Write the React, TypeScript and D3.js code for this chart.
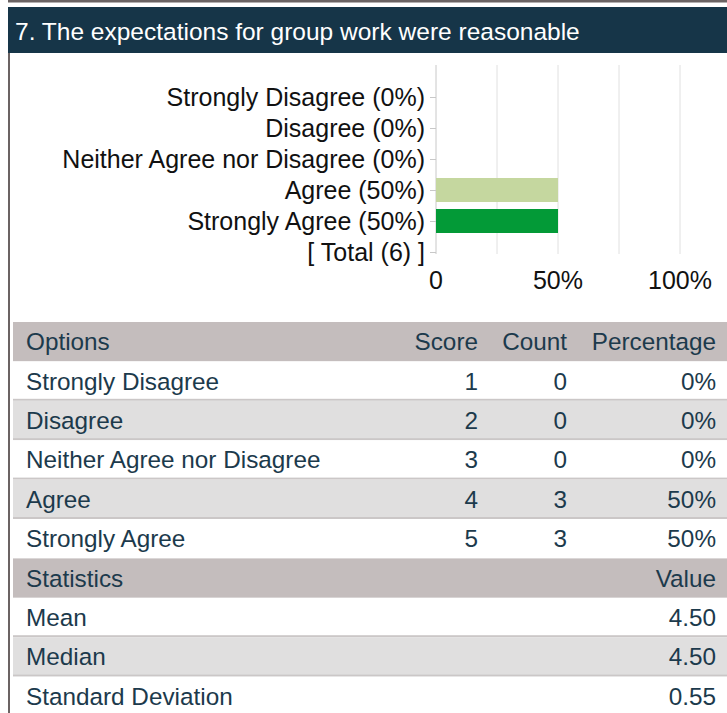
import { useEffect, useRef } from "react"
import * as d3 from "d3"

const title = "7. The expectations for group work were reasonable"
const categories = ["Strongly Disagree", "Disagree", "Neither Agree nor Disagree", "Agree", "Strongly Agree"]
const scores = [1, 2, 3, 4, 5]
const counts = [0, 0, 0, 3, 3]
const percentages = [0, 0, 0, 50, 50]
const total = 6
const barColors = ["#d7301f", "#fc8d59", "#fee08b", "#c5d79f", "#039a37"]
const xTicks = [0, 50, 100]
const gridTicks = [0, 25, 50, 75, 100]
const statNames = ["Mean", "Median", "Standard Deviation"]
const statValues = ["4.50", "4.50", "0.55"]

const W = 727
const H = 713
const FONT = "'Liberation Sans', Arial, sans-serif"
const TEXT = "#1c3a4c"

const App = () => {
  const svgRef = useRef<SVGSVGElement>(null)

  useEffect(() => {
    const svg = d3.select(svgRef.current)
    svg.selectAll("*").remove()
    svg.attr("font-family", FONT)

    // frame: top rule, left rule, title bar
    svg.append("rect").attr("x", 8).attr("y", 0).attr("width", W - 8).attr("height", 2.5).attr("fill", "#6b6363")
    svg.append("rect").attr("x", 8).attr("y", 53).attr("width", 2).attr("height", H - 53).attr("fill", "#6b6363")
    svg.append("rect").attr("x", 8).attr("y", 7).attr("width", W - 8).attr("height", 46).attr("fill", "#163548")
    svg.append("text").attr("x", 15).attr("y", 40).attr("fill", "#fff").attr("font-size", 24.5).text(title)

    // bar chart
    const labels = categories.map((c, i) => `${c} (${percentages[i]}%)`).concat(`[ Total (${total}) ]`)
    const x = d3.scaleLinear().domain([0, 100]).range([436, 680])
    const y = d3.scalePoint<string>().domain(labels).range([97, 252])

    const chart = svg.append("g")
    chart.selectAll(".grid")
      .data(gridTicks)
      .enter()
      .append("line")
      .attr("x1", d => x(d)).attr("x2", d => x(d))
      .attr("y1", 65).attr("y2", 254)
      .attr("stroke", d => d === 0 ? "#c8c8c8" : "#e0e0e0")
      .attr("stroke-width", 1)

    chart.selectAll(".bar")
      .data(categories)
      .enter()
      .append("rect")
      .attr("x", x(0))
      .attr("y", (d, i) => (y(labels[i]) as number) - 12)
      .attr("width", (d, i) => x(percentages[i]) - x(0))
      .attr("height", 24)
      .attr("fill", (d, i) => barColors[i])

    const yAxis = chart.append("g")
      .attr("transform", `translate(${x(0)},0)`)
      .call(d3.axisLeft(y).tickSize(6).tickPadding(5))
    yAxis.select(".domain").remove()
    yAxis.selectAll(".tick line").attr("stroke", "#c8c8c8")
    yAxis.selectAll(".tick text")
      .attr("fill", "#111")
      .attr("font-size", 25)
      .attr("font-family", FONT)
      .attr("dy", "0.34em")

    chart.selectAll(".xlabel")
      .data(xTicks)
      .enter()
      .append("text")
      .attr("x", d => x(d))
      .attr("y", 289)
      .attr("text-anchor", "middle")
      .attr("font-size", 25)
      .attr("fill", "#111")
      .text(d => d === 0 ? "0" : `${d}%`)

    // table
    const rowH = 39.4
    const top = 322
    const left = 13
    type Row = { cells: string[]; kind: "head" | "body" }
    const rows: Row[] = [
      { cells: ["Options", "Score", "Count", "Percentage"], kind: "head" },
      ...categories.map((c, i) => ({ cells: [c, String(scores[i]), String(counts[i]), `${percentages[i]}%`], kind: "body" as const })),
      { cells: ["Statistics", "", "", "Value"], kind: "head" },
      ...statNames.map((s, i) => ({ cells: [s, "", "", statValues[i]], kind: "body" as const })),
    ]
    const colX = [26, 478, 567, 716]

    let bodyIdx = 0
    rows.forEach((r, i) => {
      const ry = top + i * rowH
      let fill = "#fff"
      if (r.kind === "head") {
        fill = "#c4bdbd"
        bodyIdx = 0
      } else {
        fill = bodyIdx % 2 === 0 ? "#ffffff" : "#e0dfdf"
        bodyIdx++
      }
      const g = svg.append("g")
      g.append("rect").attr("x", left).attr("y", ry).attr("width", W - left).attr("height", rowH).attr("fill", fill)
      if (r.kind === "body" && i < rows.length - 1 && rows[i + 1].kind === "body") {
        g.append("rect").attr("x", left).attr("y", ry + rowH - 2).attr("width", W - left).attr("height", 2).attr("fill", "#cbc7c7")
      }
      r.cells.forEach((c, j) => {
        if (!c) return
        g.append("text")
          .attr("x", colX[j])
          .attr("y", ry + rowH / 2 + 8.5)
          .attr("text-anchor", j === 0 ? "start" : "end")
          .attr("font-size", 24.3)
          .attr("fill", TEXT)
          .text(c)
      })
    })
  }, [])

  return (
    <svg
      ref={svgRef}
      width={W}
      height={H}
      style={{ position: "absolute", left: 0, top: 0, background: "#fff" }}
    />
  )
}

export default App
